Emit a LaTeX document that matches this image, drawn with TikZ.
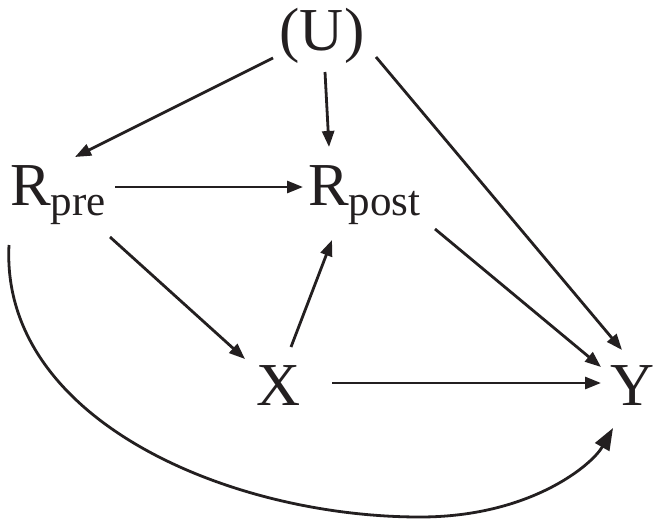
\documentclass[tikz,border=0pt]{standalone}
\usepackage{fontspec}
\setmainfont{Liberation Serif}
\usetikzlibrary{arrows.meta,calc}
\definecolor{ink}{HTML}{231F20}
\newcommand{\subtxt}[1]{\raisebox{-10pt}{\fontsize{43}{43}\selectfont #1}}
\begin{document}
\begin{tikzpicture}[x=1pt,y=-1pt,
  lbl/.style={inner sep=0pt, font=\fontsize{61}{61}\selectfont, text=ink},
  arr/.style={draw=ink, line width=2.8pt, -{Triangle[length=16pt,width=12pt]}},
  bigarr/.style={draw=ink, line width=2.8pt, -{Triangle[length=22pt,width=16pt]}}]
\useasboundingbox[fill=white] (0,0) rectangle (660,522);
\node[lbl, anchor=base] (U) at (322,50) {(U)};
\node[lbl, anchor=base west] (Rpre) at (10,205) {R\subtxt{pre}};
\node[lbl, anchor=base west] (Rpost) at (308,205) {R\subtxt{post}};
\node[lbl, anchor=base] (X) at (279,405) {X};
\node[lbl, anchor=base] (Y) at (633,405) {Y};
% U -> Rpre
\draw[arr] ($(U.base)+(-49,8)$) -- ($(Rpre.base west)+(65,-48)$);
% U -> Rpost
\draw[arr] ($(U.base)+(3,22)$) -- ($(Rpost.base west)+(21,-58)$);
% U -> Y
\draw[arr] ($(U.base)+(54,7)$) -- ($(Y.base)+(-11,-55)$);
% Rpre -> Rpost
\draw[arr] ($(Rpre.base west)+(105,-18)$) -- ($(Rpost.base west)+(-5,-18)$);
% Rpre -> X
\draw[arr] ($(Rpre.base west)+(100,32)$) -- ($(X.base)+(-34,-46)$);
% X -> Rpost
\draw[arr] ($(X.base)+(12,-58)$) -- ($(Rpost.base west)+(24,35)$);
% Rpost -> Y
\draw[arr] ($(Rpost.base west)+(127,24)$) -- ($(Y.base)+(-32,-38)$);
% X -> Y
\draw[arr] ($(X.base)+(53,-22)$) -- ($(Y.base)+(-32,-22)$);
% Rpre -> Y (curve)
\draw[bigarr] ($(Rpre.base west)+(-1,40)$) .. controls (0,420) and (230,517) .. (420,517)
  .. controls (530,517) and (592,465) .. ($(Y.base)+(-20,23)$);
\end{tikzpicture}
\end{document}
